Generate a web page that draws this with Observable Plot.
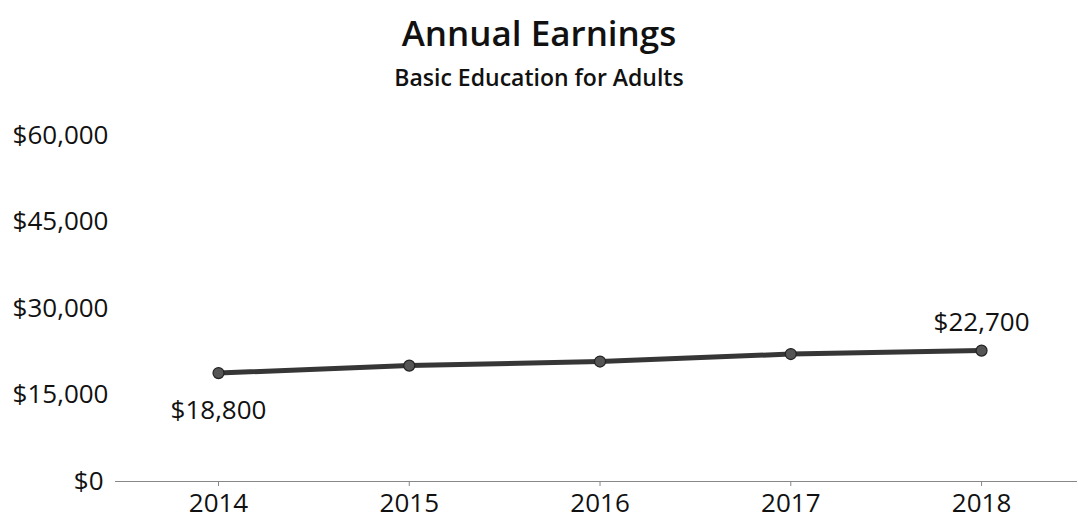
<!DOCTYPE html>
<html>
<head>
<meta charset="utf-8">
<script src="https://cdn.jsdelivr.net/npm/d3@7"></script>
<script src="https://cdn.jsdelivr.net/npm/@observablehq/plot@0.6"></script>
<style>
  html, body { margin: 0; padding: 0; background: #fff; }
  body { width: 1078px; height: 519px; overflow: hidden; font-family: "Open Sans", sans-serif; color: #111; }
  #title { position: absolute; left: 0; width: 1078px; top: 10px; text-align: center; font-size: 35px; font-weight: 600; line-height: 46px; }
  #subtitle { position: absolute; left: 0; width: 1078px; top: 62px; text-align: center; font-size: 23px; font-weight: 600; line-height: 30px; }
  #chart { position: absolute; left: 0; top: 100px; }
</style>
</head>
<body>
<div id="title">Annual Earnings</div>
<div id="subtitle">Basic Education for Adults</div>
<div id="chart"></div>
<script>
const years = [2014, 2015, 2016, 2017, 2018];
const earnings = [18800, 20100, 20800, 22100, 22700];
const yTicks = [0, 15000, 30000, 45000, 60000];
const labelYears = [2014, 2018];

const data = years.map((y, i) => ({year: y, value: earnings[i]}));
const fmt = v => "$" + d3.format(",")(v);

const chart = Plot.plot({
  width: 1078,
  height: 419,
  marginLeft: 115,
  marginRight: 1,
  marginTop: 35,
  marginBottom: 38,
  style: {fontFamily: "Open Sans, sans-serif", fontSize: "26px", color: "#111", background: "#fff"},
  x: {domain: [2013.46, 2018.503], label: null},
  y: {domain: [0, 60000], label: null},
  marks: [
    Plot.axisX(years, {tickFormat: d => String(d), tickSize: 5, tickPadding: 7, stroke: "#888", fill: "#111", label: null}),
    Plot.axisY(yTicks.filter(v => v !== 0), {tickFormat: fmt, tickSize: 0, tickPadding: 7, fill: "#111", label: null}),
    Plot.axisY([0], {tickFormat: fmt, tickSize: 0, tickPadding: 12, fill: "#111", label: null}),
    Plot.ruleY([0], {stroke: "#888", strokeWidth: 1}),
    Plot.line(data, {x: "year", y: "value", stroke: "#363636", strokeWidth: 5}),
    Plot.dot(data, {x: "year", y: "value", fill: "#555", stroke: "#222", strokeWidth: 1.2, r: 5.5}),
    Plot.text(data.filter(d => d.year === labelYears[0]), {x: "year", y: "value", text: d => fmt(d.value), dy: 38, fill: "#111", fontSize: 26}),
    Plot.text(data.filter(d => d.year === labelYears[1]), {x: "year", y: "value", text: d => fmt(d.value), dy: -28, fill: "#111", fontSize: 26})
  ]
});
document.getElementById("chart").appendChild(chart);
</script>
</body>
</html>
